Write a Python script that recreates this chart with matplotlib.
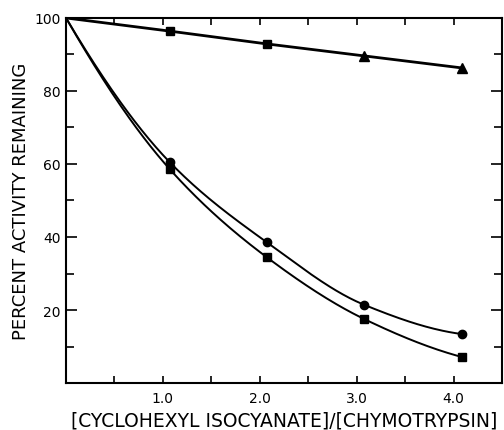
import numpy as np
import matplotlib
matplotlib.use("Agg")
import matplotlib.pyplot as plt
from matplotlib.ticker import MultipleLocator

# ratio values and percent activity
ratio = [0.0, 1.07, 2.07, 3.08, 4.09]
circles = [100.0, 60.5, 38.6, 21.4, 13.4]
squares = [100.0, 58.6, 34.5, 17.5, 7.1]
control = [100.0, 96.4, 92.9, 89.6, 86.3]

x_ticks = [1.0, 2.0, 3.0, 4.0]
x_labels = ["1.0", "2.0", "3.0", "4.0"]
y_ticks = [20, 40, 60, 80, 100]
y_labels = ["20", "40", "60", "80", "100"]


def smooth(x, y, n=60):
    # monotone cubic hermite through the points (like a french-curve line)
    x = np.asarray(x); y = np.asarray(y)
    h = np.diff(x); d = np.diff(y) / h
    m = np.zeros_like(y)
    for k in range(1, len(x) - 1):
        if d[k - 1] * d[k] > 0:
            w1 = 2 * h[k] + h[k - 1]; w2 = h[k] + 2 * h[k - 1]
            m[k] = (w1 + w2) / (w1 / d[k - 1] + w2 / d[k])
    m[0] = ((2 * h[0] + h[1]) * d[0] - h[0] * d[1]) / (h[0] + h[1])
    m[-1] = ((2 * h[-1] + h[-2]) * d[-1] - h[-1] * d[-2]) / (h[-1] + h[-2])
    xs, ys = [], []
    for k in range(len(h)):
        t = np.linspace(0, 1, n)
        h00 = 2 * t**3 - 3 * t**2 + 1; h10 = t**3 - 2 * t**2 + t
        h01 = -2 * t**3 + 3 * t**2; h11 = t**3 - t**2
        xs.append(x[k] + t * h[k])
        ys.append(h00 * y[k] + h10 * h[k] * m[k] + h01 * y[k + 1] + h11 * h[k] * m[k + 1])
    return np.concatenate(xs), np.concatenate(ys)


fig = plt.figure(figsize=(5.04, 4.31), dpi=100)
ax = fig.add_axes([0.131, 0.109, 0.865, 0.847])

for ys in (circles, squares):
    sx, sy = smooth(ratio, ys)
    ax.plot(sx, sy, color="black", lw=1.4)

ax.plot(ratio[1:], circles[1:], "o", color="black", ms=6)
ax.plot(ratio[1:], squares[1:], "s", color="black", ms=5.5)

ax.plot(ratio, control, color="black", lw=2.0)
ax.plot(ratio[1:3], control[1:3], "s", color="black", ms=5.5)
ax.plot(ratio[3:], control[3:], "^", color="black", ms=6.5)

ax.set_xlim(0, 4.5)
ax.set_ylim(0, 100)
ax.set_xticks(x_ticks)
ax.set_xticklabels(x_labels)
ax.set_yticks(y_ticks)
ax.set_yticklabels(y_labels)
ax.xaxis.set_minor_locator(MultipleLocator(0.5))
ax.yaxis.set_minor_locator(MultipleLocator(10))

ax.tick_params(which="both", direction="in", top=True, right=True,
               width=1.2, labelsize=10, pad=4)
ax.tick_params(axis="y", which="major", length=8, labelright=False)
ax.tick_params(axis="y", which="minor", length=6)
ax.tick_params(axis="x", which="both", length=5)
ax.tick_params(axis="x", which="major", pad=6)

for s in ax.spines.values():
    s.set_linewidth(1.5)

ax.set_xlabel("[CYCLOHEXYL ISOCYANATE]/[CHYMOTRYPSIN]", fontsize=13.5, labelpad=4)
ax.set_ylabel("PERCENT ACTIVITY REMAINING", fontsize=13, labelpad=3)

fig.savefig("out.png", dpi=100)
